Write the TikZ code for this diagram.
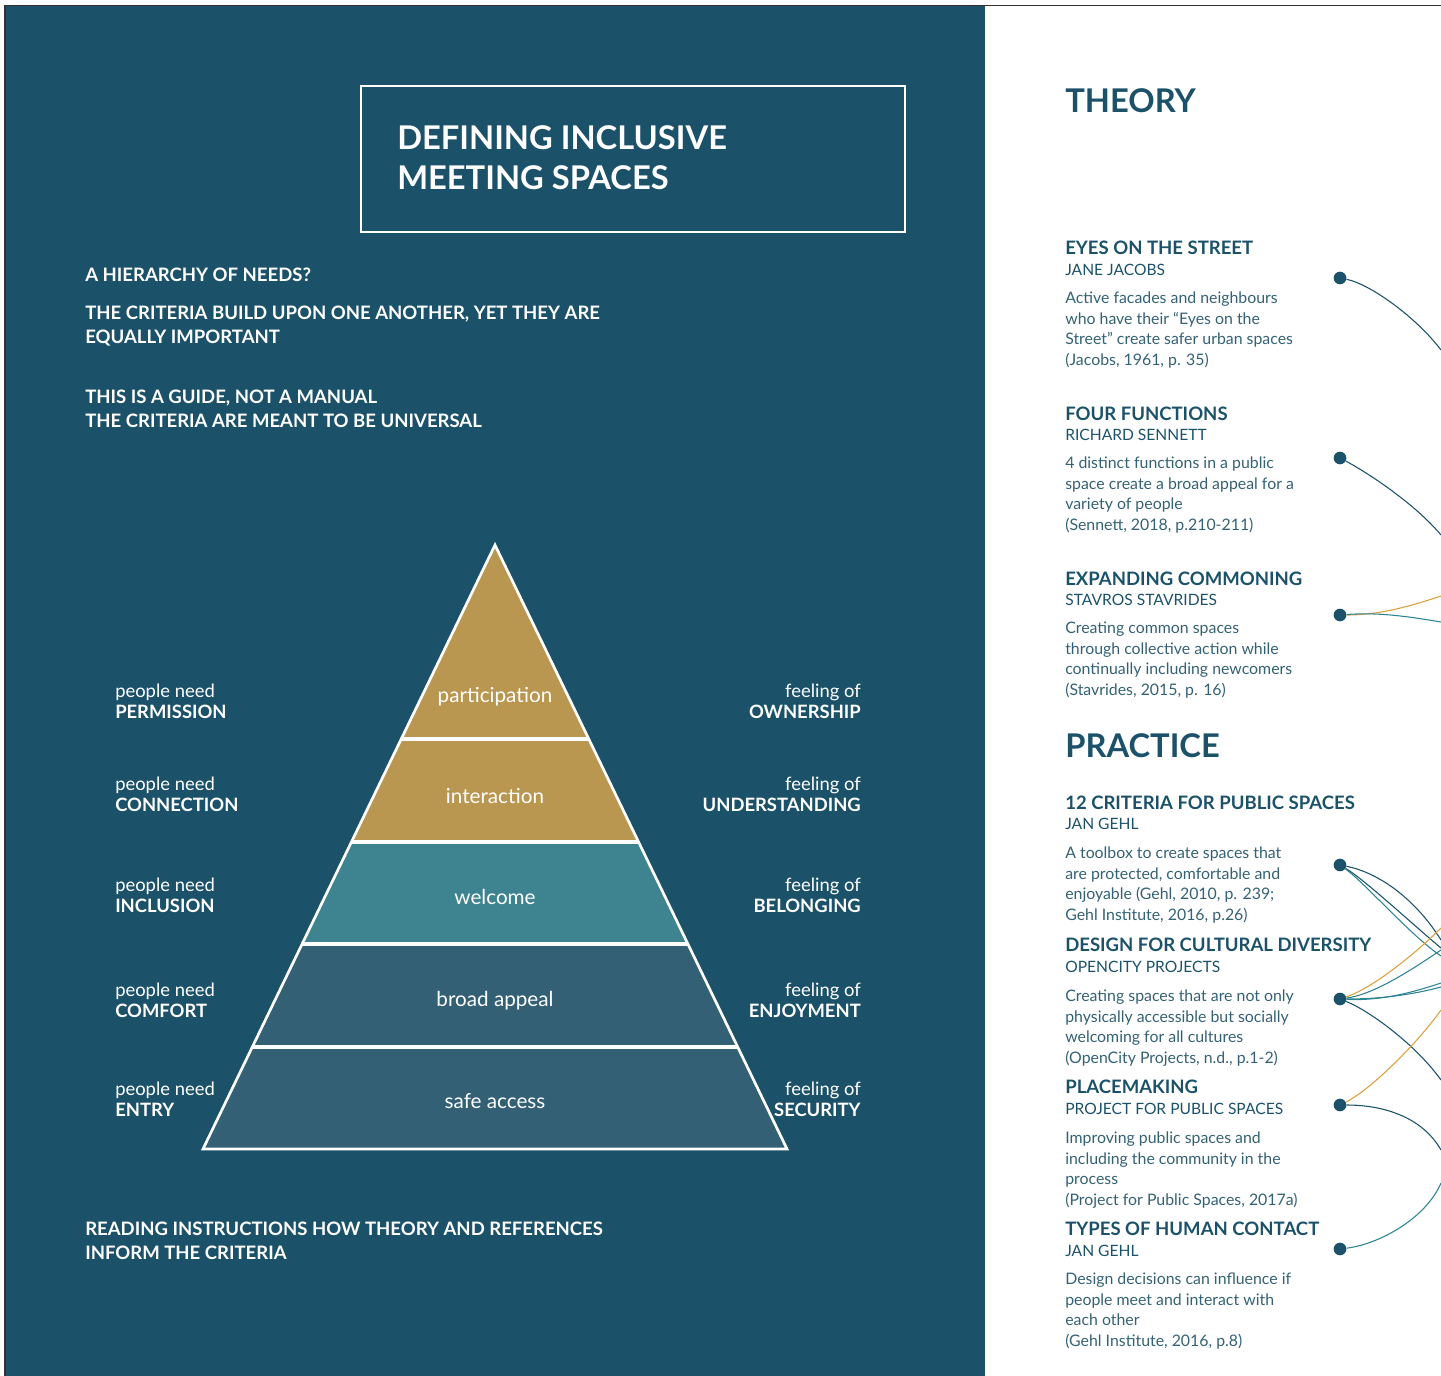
\documentclass[tikz,border=0pt]{standalone}
\usepackage{fontspec}
\setmainfont{Lato}
\usetikzlibrary{positioning,calc}

\definecolor{bgblue}{RGB}{27,82,106}
\definecolor{pyrgold}{RGB}{186,151,80}
\definecolor{pyrteal}{RGB}{62,132,144}
\definecolor{pyrslate}{RGB}{52,96,117}
\definecolor{bodytxt}{RGB}{52,98,116}
\definecolor{lkteal}{RGB}{44,132,146}
\definecolor{lkgold}{RGB}{218,160,60}
\definecolor{framegray}{RGB}{50,50,50}

\begin{document}
\begin{tikzpicture}[x=0.75pt,y=-0.75pt,
  caps/.style={anchor=north west, inner sep=0, align=left, text=white,
    font=\fontsize{13.9}{18}\selectfont\bfseries},
  side/.style={inner sep=0, text=white, font=\fontsize{13.8}{15.75}\selectfont},
  lvl/.style={inner sep=0, text=white, font=\fontsize{15.5}{18}\selectfont},
  bigh/.style={anchor=north west, inner sep=0, text=bgblue,
    font=\fontsize{24.5}{30}\selectfont\bfseries},
  refh/.style={anchor=north west, inner sep=0, text=bgblue,
    font=\fontsize{13.9}{16}\selectfont\bfseries},
  refa/.style={anchor=north west, inner sep=0, text=bgblue,
    font=\fontsize{11.7}{14}\selectfont},
  refb/.style={anchor=north west, inner sep=0, align=left, text=bodytxt,
    font=\fontsize{11.9}{15.3}\selectfont},
  dot/.style={circle, fill=bgblue, inner sep=0, minimum size=9.5pt},
  lk/.style={line width=0.8pt}]

\useasboundingbox (0,0) rectangle (1441,1376);

% linkes Feld
\fill[bgblue] (5,6) rectangle (985,1376);
\draw[framegray, line width=1.2pt] (5,1376) -- (5,5.5) -- (1441,5.5);

% Titel
\draw[white, line width=1.4pt] (361,86) rectangle (905,232);
\node[caps, font=\fontsize{24.5}{30}\selectfont\bfseries] (title) at (397,125)
  {DEFINING INCLUSIVE\\MEETING SPACES};

\node[caps] (hier) at (85,268) {A HIERARCHY OF NEEDS?};
\node[caps] (crit) at (85,306) {THE CRITERIA BUILD UPON ONE ANOTHER, YET THEY ARE\\EQUALLY IMPORTANT};
\node[caps] (guide) at (85,390) {THIS IS A GUIDE, NOT A MANUAL\\THE CRITERIA ARE MEANT TO BE UNIVERSAL};
\node[caps] (read) at (85,1222) {READING INSTRUCTIONS HOW THEORY AND REFERENCES\\INFORM THE CRITERIA};

% Pyramide
\coordinate (top) at (495,545);
\coordinate (bl) at (203,1149);
\coordinate (br) at (787,1149);
\foreach \a/\b/\c in {0/0.3212/pyrgold, 0.3212/0.4917/pyrgold, 0.4917/0.6606/pyrteal,
    0.6606/0.8311/pyrslate, 0.8311/1/pyrslate}
  \fill[\c] ($(top)!\a!(bl)$) -- ($(top)!\b!(bl)$) -- ($(top)!\b!(br)$) -- ($(top)!\a!(br)$) -- cycle;
\foreach \b in {0.3212,0.4917,0.6606,0.8311}
  \draw[white, line width=2.4pt] ($(top)!\b!(bl)$) -- ($(top)!\b!(br)$);
\draw[white, line width=2pt] (top) -- (bl) -- (br) -- cycle;

\foreach \y/\t [count=\i] in {697/participation, 796/interaction, 897/welcome,
    1001/broad appeal, 1101/safe access}
  \node[lvl] (lvl\i) at (495,\y) {\t};

% Beschriftung links und rechts
\foreach \y/\need/\feel [count=\i] in {684/PERMISSION/OWNERSHIP, 777/CONNECTION/UNDERSTANDING,
    878/INCLUSION/BELONGING, 983/COMFORT/ENJOYMENT, 1082/ENTRY/SECURITY} {
  \node[side, anchor=north west, align=left] (need\i) at (115,\y) {people need\\\textbf{\need}};
  \node[side, anchor=north east, align=right] (feel\i) at (861,\y) {feeling of\\\textbf{\feel}};
}

% rechtes Feld: Theorie
\node[bigh] (theory) at (1065,88) {THEORY};

\node[refh] (h1) at (1065,241) {EYES ON THE STREET};
\node[refa] (a1) at (1065,263.5) {JANE JACOBS};
\node[refb] (b1) at (1065,292) {Active facades and neighbours\\who have their “Eyes on the\\Street” create safer urban spaces\\(Jacobs, 1961, p. 35)};

\node[refh] (h2) at (1065,407) {FOUR FUNCTIONS};
\node[refa] (a2) at (1065,428.5) {RICHARD SENNETT};
\node[refb] (b2) at (1065,457) {4 distinct functions in a public\\space create a broad appeal for a\\variety of people\\(Sennett, 2018, p.210-211)};

\node[refh] (h3) at (1065,572) {EXPANDING COMMONING};
\node[refa] (a3) at (1065,593.5) {STAVROS STAVRIDES};
\node[refb] (b3) at (1065,622) {Creating common spaces\\through collective action while\\continually including newcomers\\(Stavrides, 2015, p. 16)};

% rechtes Feld: Praxis
\node[bigh] (practice) at (1065,733) {PRACTICE};

\node[refh] (h4) at (1065,796) {12 CRITERIA FOR PUBLIC SPACES};
\node[refa] (a4) at (1065,817.5) {JAN GEHL};
\node[refb] (b4) at (1065,847) {A toolbox to create spaces that\\are protected, comfortable and\\enjoyable (Gehl, 2010, p. 239;\\Gehl Institute, 2016, p.26)};

\node[refh] (h5) at (1065,938) {DESIGN FOR CULTURAL DIVERSITY};
\node[refa] (a5) at (1065,960.5) {OPENCITY PROJECTS};
\node[refb] (b5) at (1065,990) {Creating spaces that are not only\\physically accessible but socially\\welcoming for all cultures\\(OpenCity Projects, n.d., p.1-2)};

\node[refh] (h6) at (1065,1080) {PLACEMAKING};
\node[refa] (a6) at (1065,1102.5) {PROJECT FOR PUBLIC SPACES};
\node[refb] (b6) at (1065,1132) {Improving public spaces and\\including the community in the\\process\\(Project for Public Spaces, 2017a)};

\node[refh] (h7) at (1065,1222) {TYPES OF HUMAN CONTACT};
\node[refa] (a7) at (1065,1244.5) {JAN GEHL};
\node[refb] (b7) at (1065,1273) {Design decisions can influence if\\people meet and interact with\\each other\\(Gehl Institute, 2016, p.8)};

% Punkte und Verbindungen zum Rand
\foreach \y [count=\i] in {278,458,615,865,999,1105,1249}
  \node[dot] (d\i) at (1340,\y) {};

\coordinate (e1) at (1441,350);
\coordinate (e2) at (1441,535);
\coordinate (e3a) at (1441,596);
\coordinate (e3b) at (1441,622);
\coordinate (e4a) at (1441,940);
\coordinate (e4b) at (1441,948);
\coordinate (e4c) at (1441,956);
\coordinate (e5a) at (1441,928);
\coordinate (e5b) at (1441,950);
\coordinate (e5c) at (1441,983);
\coordinate (e5d) at (1441,987);
\coordinate (e5e) at (1441,1080);
\coordinate (e6a) at (1441,1010);
\coordinate (e6b) at (1441,1150);
\coordinate (e7) at (1441,1183);

\draw[lk, bgblue] (d1) .. controls +(30,6) and +(-25,-33) .. (e1);
\draw[lk, bgblue] (d2) .. controls +(30,16) and +(-25,-30) .. (e2);
\draw[lk, lkgold] (d3) .. controls +(40,0) and +(-30,10) .. (e3a);
\draw[lk, lkteal] (d3) .. controls +(40,-3) and +(-30,-5) .. (e3b);
\draw[lk, bgblue] (d4) .. controls +(40,8) and +(-25,-40) .. (e4a);
\draw[lk, bgblue] (d4) .. controls +(25,15) and +(-30,-25) .. (e4b);
\draw[lk, lkteal] (d4) .. controls +(25,18) and +(-30,-20) .. (e4c);
\draw[lk, lkgold] (d5) .. controls +(30,-10) and +(-30,30) .. (e5a);
\draw[lk, lkteal] (d5) .. controls +(35,-5) and +(-30,20) .. (e5b);
\draw[lk, lkteal] (d5) .. controls +(40,2) and +(-30,10) .. (e5c);
\draw[lk, lkteal] (d5) .. controls +(40,0) and +(-30,8) .. (e5d);
\draw[lk, bgblue] (d5) .. controls +(30,12) and +(-25,-35) .. (e5e);
\draw[lk, lkgold] (d6) .. controls +(30,-15) and +(-25,35) .. (e6a);
\draw[lk, bgblue] (d6) .. controls +(40,0) and +(-20,-35) .. (e6b);
\draw[lk, lkteal] (d7) .. controls +(40,-5) and +(-15,35) .. (e7);

\end{tikzpicture}
\end{document}
